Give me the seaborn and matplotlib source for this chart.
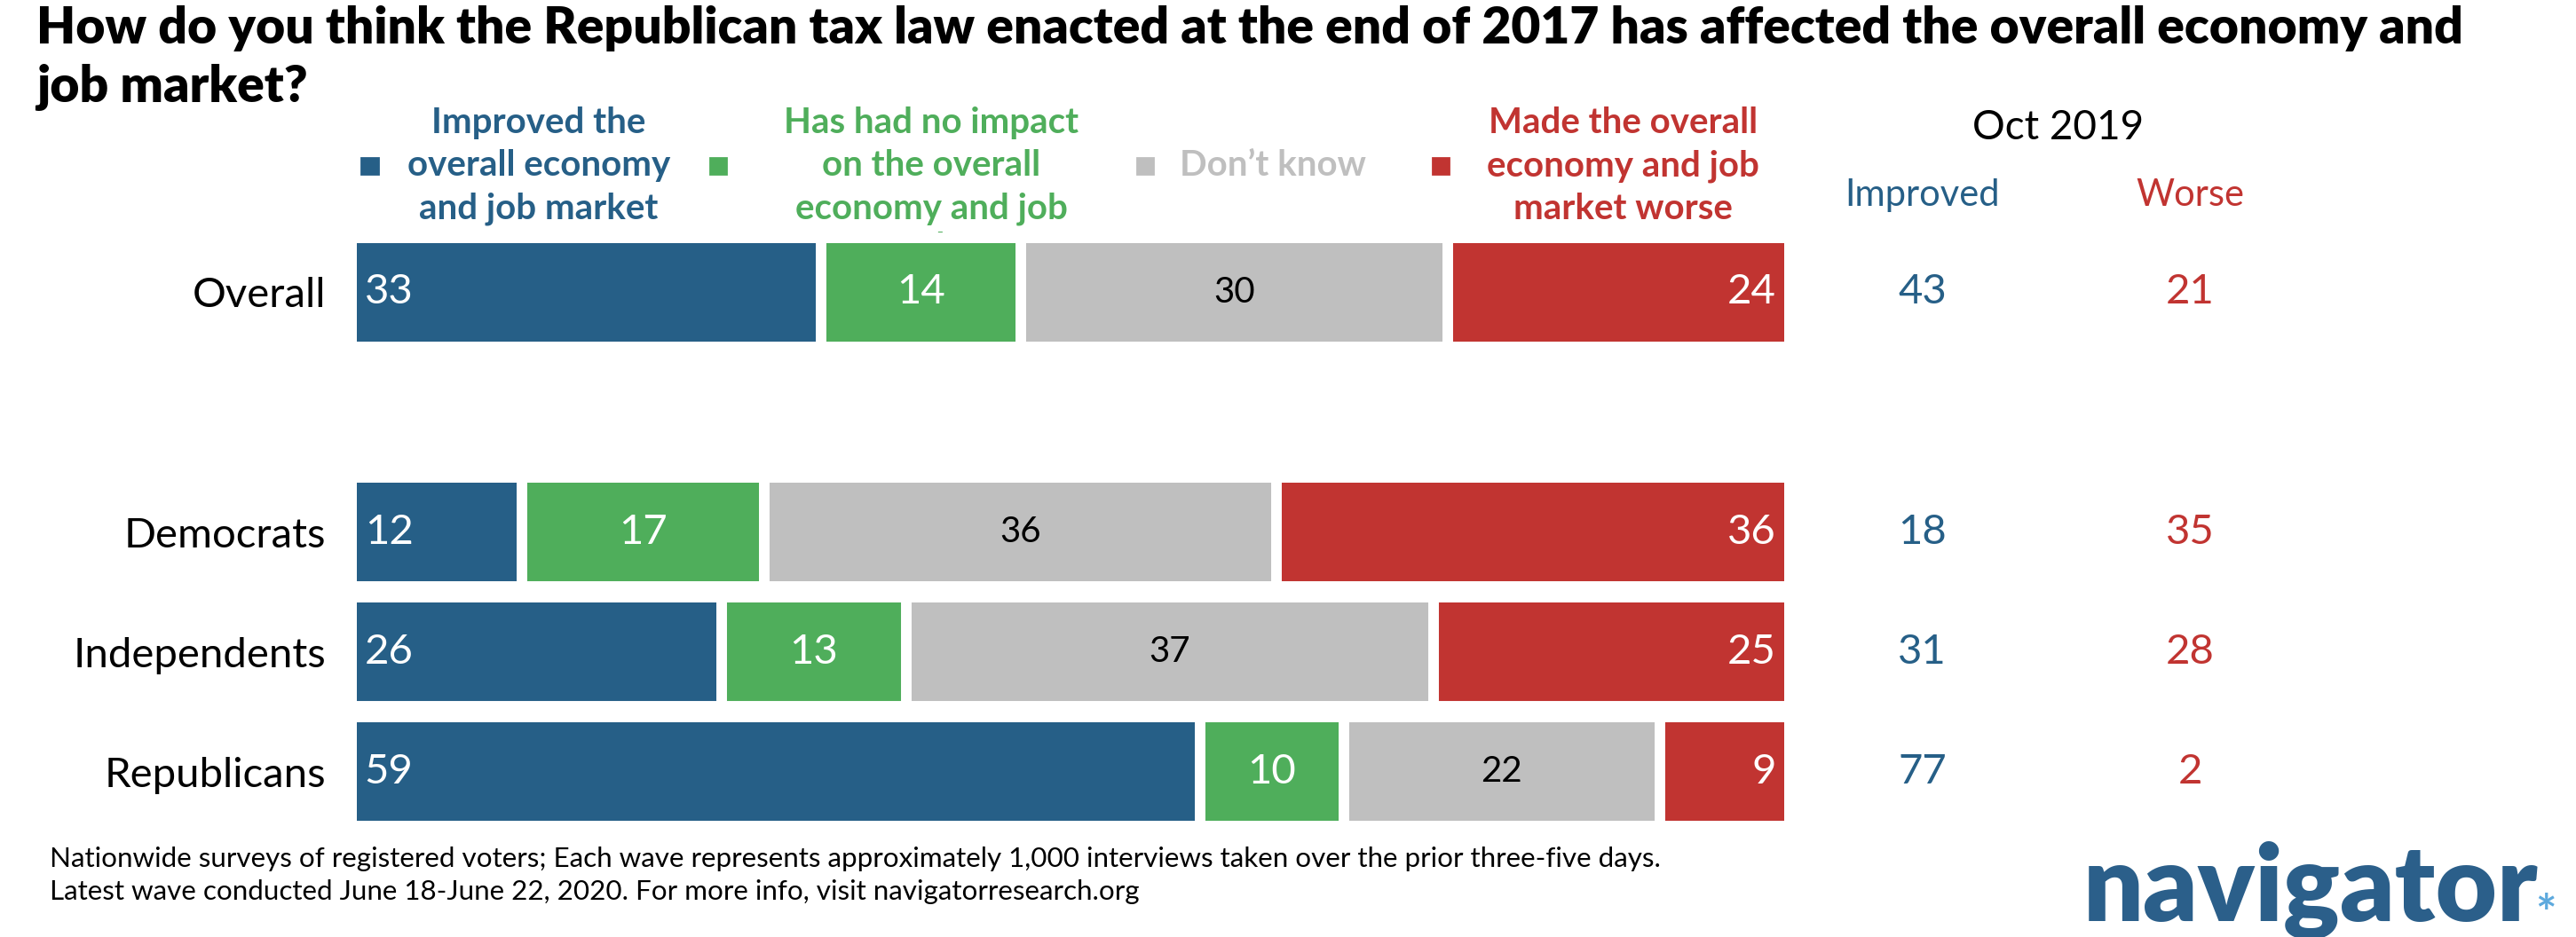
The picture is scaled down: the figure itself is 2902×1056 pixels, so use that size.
import pandas as pd
import seaborn as sns
import matplotlib.pyplot as plt
import matplotlib.transforms as mtransforms
from matplotlib.patches import Rectangle

# data
groups = ["Overall", "Democrats", "Independents", "Republicans"]
improved = [33, 12, 26, 59]
no_impact = [14, 17, 13, 10]
dont_know = [30, 36, 37, 22]
worse = [24, 36, 25, 9]
oct_improved = [43, 18, 31, 77]
oct_worse = [21, 35, 28, 2]

legend_labels = [
    ["Improved the", "overall economy", "and job market"],
    ["Has had no impact", "on the overall", "economy and job", "market"],
    ["Don\u2019t know"],
    ["Made the overall", "economy and job", "market worse"],
]

BLUE = "#265F87"
GREEN = "#4FAE5B"
GRAY = "#BFBFBF"
RED = "#C13431"
colors = [BLUE, GREEN, GRAY, RED]

sns.set_style("white")
plt.rcParams["font.family"] = ["Lato", "DejaVu Sans"]

df = pd.DataFrame({"group": groups, "improved": improved, "no_impact": no_impact,
                   "dont_know": dont_know, "worse": worse})
# each row fills the full width (rows sum to 100 or 101 because of rounding)
df["total"] = df[["improved", "no_impact", "dont_know", "worse"]].sum(axis=1)
scale = 100 / df["total"]
df["c1"] = df["improved"] * scale
df["c2"] = (df["improved"] + df["no_impact"]) * scale
df["c3"] = (df["improved"] + df["no_impact"] + df["dont_know"]) * scale
df["c4"] = df["total"] * scale

order = ["Overall", " ", "Democrats", "Independents", "Republicans"]

# reference layout was measured on a 1568 x 570.5 preview
W, H = 1568.0, 570.5
def fx(x):
    return x / W
def fy(y):
    return 1 - y / H

fig = plt.figure(figsize=(14.51, 5.28), dpi=200)
ax = fig.add_axes([fx(217), fy(506.5), fx(1086) - fx(217), (506.5 - 141.5) / H])
ax.patch.set_alpha(0)

for col, c in zip(["c4", "c3", "c2", "c1"], [RED, GRAY, GREEN, BLUE]):
    sns.barplot(data=df, x=col, y="group", order=order, color=c, saturation=1,
                width=0.91, edgecolor="white", linewidth=4.3, errorbar=None, ax=ax)

ax.set_xlim(0.375, 99.625)
ax.set_ylim(4.5, -0.5)
ax.set_xticks([])
ax.set_xlabel("")
ax.set_ylabel("")
sns.despine(ax=ax, left=True, bottom=True)
ax.tick_params(axis="y", length=0, pad=12.5, labelsize=17, labelcolor="black")

# numbers inside the bars
for i, g in enumerate(groups):
    y = order.index(g)
    ax.annotate(str(improved[i]), xy=(0, y), xytext=(5.5, 0), textcoords="offset points",
                ha="left", va="center", color="white", fontsize=17, annotation_clip=False)
    ax.text((df["c1"][i] + df["c2"][i]) / 2, y, str(no_impact[i]), ha="center", va="center",
            color="white", fontsize=17)
    ax.text((df["c2"][i] + df["c3"][i]) / 2, y, str(dont_know[i]), ha="center", va="center",
            color="black", fontsize=14.5)
    ax.annotate(str(worse[i]), xy=(df["c4"][i], y), xytext=(-5.5, 0), textcoords="offset points",
                ha="right", va="center", color="white", fontsize=17, annotation_clip=False)

# Oct 2019 comparison columns
tr = mtransforms.blended_transform_factory(fig.transFigure, ax.transData)
for i, g in enumerate(groups):
    y = order.index(g)
    ax.text(fx(1170), y, str(oct_improved[i]), transform=tr, ha="center", va="center",
            color=BLUE, fontsize=17, clip_on=False)
    ax.text(fx(1333), y, str(oct_worse[i]), transform=tr, ha="center", va="center",
            color=RED, fontsize=17, clip_on=False)
fig.text(fx(1253), fy(78), "Oct 2019", ha="center", va="center", fontsize=16.5, color="black")
fig.text(fx(1170), fy(119), "Improved", ha="center", va="center", fontsize=15, color=BLUE)
fig.text(fx(1333), fy(119), "Worse", ha="center", va="center", fontsize=15, color=RED)

# legend
sq_x = [225, 437, 697, 877]
lab_x = [328, 567, 775, 988]
line_y = [75, 101, 127, 151]
for k in range(4):
    fig.patches.append(Rectangle((fx(sq_x[k] - 5), fy(106)), 10 / W, 10 / H, color=colors[k],
                                 transform=fig.transFigure, figure=fig))
    lines = legend_labels[k]
    if len(lines) == 1:
        fig.text(fx(lab_x[k]), fy(101), lines[0], ha="center", va="center", fontsize=14.5,
                 fontweight="bold", color=colors[k], zorder=-1)
    else:
        for j, t in enumerate(lines):
            fig.text(fx(lab_x[k]), fy(line_y[j]), t, ha="center", va="center", fontsize=14.5,
                     fontweight="bold", color=colors[k], zorder=-1)

# title
fig.text(fx(22), fy(3), "How do you think the Republican tax law enacted at the end of 2017 has "
         "affected the overall economy and\njob market?", ha="left", va="top", fontsize=20.5,
         fontweight="heavy", color="black", linespacing=1.33)

# footer
fig.text(fx(30), fy(523), "Nationwide surveys of registered voters; Each wave represents approximately "
         "1,000 interviews taken over the prior three-five days.", ha="left", va="center",
         fontsize=11.3, color="black")
fig.text(fx(30), fy(543), "Latest wave conducted June 18-June 22, 2020. For more info, visit "
         "navigatorresearch.org", ha="left", va="center", fontsize=11.3, color="black")

# logo
fig.text(fx(1268), fy(561), "navigator", ha="left", va="baseline", fontsize=43,
         fontweight="heavy", color="#2B5F8A")
fig.text(fx(1543), fy(566), "*", ha="left", va="baseline", fontsize=20,
         fontweight="bold", color="#5DA9DD")

fig.savefig("out.png", dpi=200)
